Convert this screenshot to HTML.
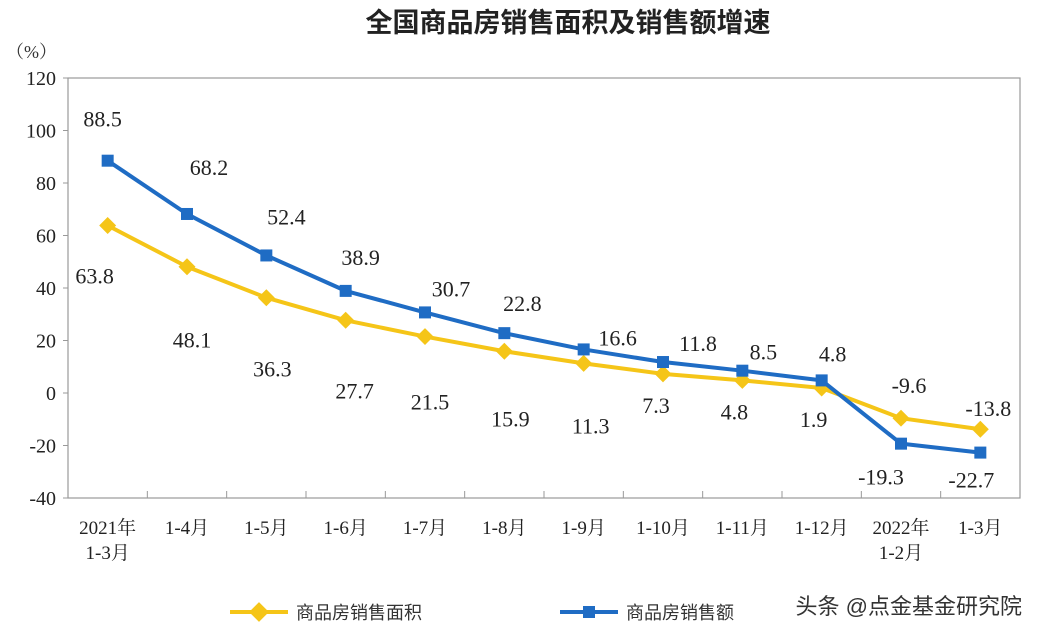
<!DOCTYPE html>
<html><head><meta charset="utf-8"><style>
body{margin:0;background:#fff;}
svg{display:block;font-family:"Liberation Serif","Noto Serif CJK SC",serif;}
</style></head><body>
<svg id="c" width="1040" height="638" viewBox="0 0 1040 638">
<text x="568" y="32" text-anchor="middle" font-size="27" font-weight="bold" fill="#222" font-family="'Liberation Sans','Noto Sans CJK SC',sans-serif">全国商品房销售面积及销售额增速</text>
<text x="6" y="58" font-size="18" fill="#333">（%）</text>
<rect x="68" y="78" width="952" height="420" fill="none" stroke="#999" stroke-width="1.2"/>
<g id="yt"></g><g id="xt"></g><g id="lines"></g><g id="labs"></g>
<g>
<line x1="230" y1="612" x2="288" y2="612" stroke="#f5c518" stroke-width="4"/>
<rect x="252" y="605" width="14" height="14" fill="#f5c518" transform="rotate(45 259 612)"/>
<text x="296" y="619" font-size="18" fill="#333" font-family="'Liberation Sans','Noto Sans CJK SC',sans-serif">商品房销售面积</text>
<line x1="560" y1="612" x2="618" y2="612" stroke="#1f6cc4" stroke-width="4"/>
<rect x="583" y="606" width="12" height="12" fill="#1f6cc4"/>
<text x="626" y="619" font-size="18" fill="#333" font-family="'Liberation Sans','Noto Sans CJK SC',sans-serif">商品房销售额</text>
</g>
<text x="1022" y="614" text-anchor="end" font-size="22" fill="#333" font-family="'Liberation Sans','Noto Sans CJK SC',sans-serif">头条 @点金基金研究院</text>
</svg>
<script>
const categories=[["2021年","1-3月"],["1-4月"],["1-5月"],["1-6月"],["1-7月"],["1-8月"],["1-9月"],["1-10月"],["1-11月"],["1-12月"],["2022年","1-2月"],["1-3月"]];
const areaGrowth=[63.8,48.1,36.3,27.7,21.5,15.9,11.3,7.3,4.8,1.9,-9.6,-13.8];
const salesGrowth=[88.5,68.2,52.4,38.9,30.7,22.8,16.6,11.8,8.5,4.8,-19.3,-22.7];
const yTicks=[-40,-20,0,20,40,60,80,100,120];
// label placement offsets (layout only)
const areaDx=[-13,5,6,9,5,6,7,-7,-8,-8,8,8];
const areaDy=[50,73,71,70,65,67,62,31,31,31,-33,-21];
const salesDx=[-5,22,20,15,26,18,34,35,21,11,-20,-9];
const salesDy=[-42,-47,-39,-34,-24,-30,-12,-19,-19,-27,33,27];
const NS="http://www.w3.org/2000/svg";
const L=68,R=1020,T=78,B=498,ymin=-40,ymax=120;
const bw=(R-L)/categories.length;
const x=i=>L+bw*(i+0.5);
const y=v=>B-(v-ymin)/(ymax-ymin)*(B-T);
function mk(tag,at,parent,txt){const e=document.createElementNS(NS,tag);for(const k in at)e.setAttribute(k,at[k]);if(txt!==undefined)e.textContent=txt;parent.appendChild(e);return e;}
const yt=document.getElementById('yt'),xt=document.getElementById('xt'),lines=document.getElementById('lines'),labs=document.getElementById('labs');
yTicks.forEach(v=>{
 const t=mk('text',{x:56,y:y(v)+7,'text-anchor':'end','font-size':20,fill:'#222'},yt,String(v));
 
 
 const l=mk('line',{x1:63,x2:68,y1:y(v),y2:y(v),stroke:'#999'},yt);
 
 
});
categories.forEach((c,i)=>{
 if(i>0){const l=mk('line',{x1:L+bw*i,x2:L+bw*i,y1:B,y2:B-7,stroke:'#999'},xt);
 
 }
 c.forEach((s,j)=>{const t=mk('text',{x:x(i),y:534+j*25,'text-anchor':'middle','font-size':19,fill:'#222'},xt,s);
 
 });
});
function series(vals,color,name,diamond){
 const p=mk('polyline',{points:vals.map((v,i)=>x(i)+','+y(v)).join(' '),fill:'none',stroke:color,'stroke-width':4,'stroke-linejoin':'round'},lines);
 
 
 vals.forEach((v,i)=>{
  let m;
  if(diamond){m=mk('rect',{x:x(i)-6,y:y(v)-6,width:12,height:12,fill:color,transform:`rotate(45 ${x(i)} ${y(v)})`},lines);}
  else{m=mk('rect',{x:x(i)-6,y:y(v)-6,width:12,height:12,fill:color},lines);}
  
  
 });
}
series(areaGrowth,'#f5c518','area-growth',true);
series(salesGrowth,'#1f6cc4','sales-growth',false);
areaGrowth.forEach((v,i)=>{
 const t=mk('text',{x:x(i)+areaDx[i],y:y(v)+areaDy[i]+8,'text-anchor':'middle','font-size':22,fill:'#222'},labs,String(v));
 
 
});
salesGrowth.forEach((v,i)=>{
 const t=mk('text',{x:x(i)+salesDx[i],y:y(v)+salesDy[i]+8,'text-anchor':'middle','font-size':22,fill:'#222'},labs,String(v));
 
 
});
</script>
</body></html>
